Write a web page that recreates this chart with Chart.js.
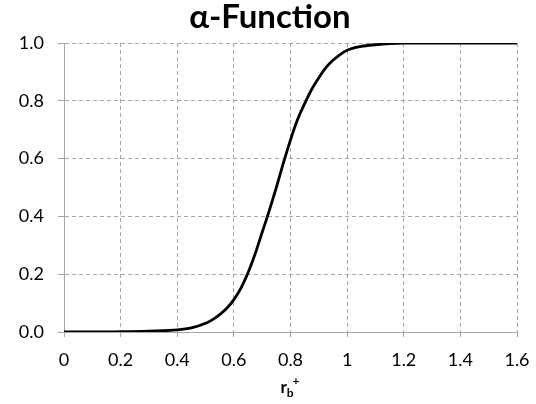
<!DOCTYPE html>
<html>
<head>
<meta charset="utf-8">
<script src="https://cdn.jsdelivr.net/npm/chart.js@4"></script>
<style>
  body { margin: 0; background: #fff; }
  #wrap { width: 536px; height: 404px; }
</style>
</head>
<body>
<div id="wrap"><canvas id="alphaChart"></canvas></div>
<script>
// values
const rbPlus = [0, 0.1, 0.2, 0.3, 0.4, 0.45, 0.5, 0.525, 0.55, 0.575, 0.6, 0.625, 0.65, 0.675, 0.7, 0.725, 0.75, 0.775, 0.8, 0.825, 0.85, 0.875, 0.9, 0.925, 0.95, 0.975, 1.0, 1.05, 1.1, 1.15, 1.2, 1.3, 1.4, 1.5, 1.6];
const alpha  = [0, 0, 0.001, 0.003, 0.007, 0.014, 0.03, 0.043, 0.06, 0.082, 0.112, 0.152, 0.205, 0.27, 0.345, 0.42, 0.50, 0.585, 0.665, 0.735, 0.79, 0.84, 0.88, 0.915, 0.94, 0.96, 0.975, 0.988, 0.994, 0.998, 1.0, 1.0, 1.0, 1.0, 1.0];
const xTicks = [0, 0.2, 0.4, 0.6, 0.8, 1, 1.2, 1.4, 1.6];
const yTicks = [0, 0.2, 0.4, 0.6, 0.8, 1.0];

const FONT = 'Lato, "Liberation Sans", sans-serif';

const labels = {
  id: 'labels',
  afterDraw(chart) {
    const {ctx, width, chartArea: {left, right}} = chart;
    ctx.save();
    ctx.fillStyle = '#000';
    ctx.textBaseline = 'alphabetic';
    // title
    ctx.font = 'bold 33px ' + FONT;
    ctx.textAlign = 'center';
    ctx.fillText('\u03b1-Function', width / 2 + 2, 28);
    // axis title r_b^+
    const cx = (left + right) / 2;
    ctx.textAlign = 'left';
    ctx.font = 'bold 17px ' + FONT;
    const wr = ctx.measureText('r').width;
    ctx.font = 'bold 12px ' + FONT;
    const wb = ctx.measureText('b').width;
    const wp = ctx.measureText('+').width;
    let x = cx - (wr + wb + wp) / 2;
    ctx.font = 'bold 17px ' + FONT;
    ctx.fillText('r', x, 393);
    x += wr;
    ctx.font = 'bold 12px ' + FONT;
    ctx.fillText('b', x, 397);
    ctx.fillText('+', x + wb - 1, 385);
    ctx.restore();
  }
};

new Chart(document.getElementById('alphaChart'), {
  type: 'line',
  data: {
    datasets: [{
      data: rbPlus.map((r, i) => ({x: r, y: alpha[i]})),
      borderColor: '#000',
      borderWidth: 2.8,
      pointRadius: 0,
      fill: false,
      cubicInterpolationMode: 'monotone'
    }]
  },
  options: {
    responsive: true,
    maintainAspectRatio: false,
    animation: false,
    layout: { padding: { left: 0, right: 19, top: 43, bottom: 0 } },
    plugins: { legend: { display: false }, tooltip: { enabled: false } },
    scales: {
      x: {
        type: 'linear',
        min: 0, max: 1.6,
        afterBuildTicks: s => { s.ticks = xTicks.map(v => ({value: v})); },
        afterFit: s => { s.height = 72; s.paddingLeft = 0; s.paddingRight = 0; },
        ticks: {
          color: '#000',
          font: { family: FONT, size: 18 },
          padding: 12,
          maxRotation: 0,
          callback: v => String(Math.round(v * 10) / 10)
        },
        grid: { color: '#a6a6a6', tickLength: 5, tickColor: '#a6a6a6' },
        border: { color: '#a6a6a6', dash: [4, 3] }
      },
      y: {
        min: 0, max: 1.0,
        afterBuildTicks: s => { s.ticks = yTicks.map(v => ({value: v})); },
        afterFit: s => { s.width = 64; s.paddingTop = 0; s.paddingBottom = 0; },
        ticks: {
          color: '#000',
          font: { family: FONT, size: 18 },
          padding: 14,
          callback: v => v.toFixed(1)
        },
        grid: { color: '#a6a6a6', tickLength: 6, tickColor: '#a6a6a6' },
        border: { color: '#a6a6a6', dash: [4, 3] }
      }
    }
  },
  plugins: [labels]
});
</script>
</body>
</html>
